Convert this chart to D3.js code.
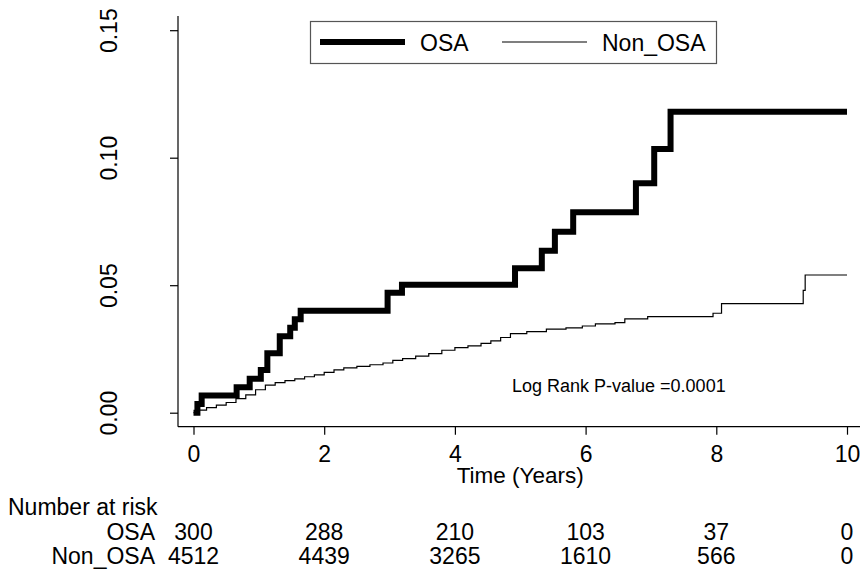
<!DOCTYPE html>
<meta charset="utf-8">
<style>
body { margin: 0; background: #fff; }
text { font-family: "Liberation Sans", Arial, sans-serif; fill: #000; }
.axis path { display: none; }
.axis line { stroke: #000; stroke-width: 1.2; }
</style>
<svg width="860" height="573"></svg>
<script src="https://d3js.org/d3.v7.min.js"></script>
<script>

// Kaplan-Meier style cumulative incidence
var osaTime = [0, 0.06, 0.125, 0.66, 0.86, 1.03, 1.13, 1.32, 1.48, 1.55, 1.64, 2.97, 3.19, 4.92, 5.33, 5.53, 5.81, 6.77, 7.05, 7.30, 10],
    osaValue = [0, 0.0034, 0.0067, 0.0100, 0.0133, 0.0167, 0.0233, 0.0300, 0.0333, 0.0366, 0.0400, 0.0470, 0.0502, 0.0566, 0.0635, 0.0710, 0.0786, 0.0900, 0.1034, 0.1180, 0.1180];

var nonTime = [0, 0.08, 0.2, 0.35, 0.5, 0.65, 0.8, 0.95, 1.1, 1.25, 1.4, 1.55, 1.7, 1.85, 2.0, 2.15, 2.3, 2.5, 2.7, 2.9, 3.05, 3.2, 3.4, 3.6, 3.8, 4.0, 4.2, 4.4, 4.55, 4.7, 4.85, 5.1, 5.4, 5.7, 5.95, 6.15, 6.45, 6.6, 6.95, 7.95, 8.08, 9.33, 9.36, 10],
    nonValue = [0, 0.0010, 0.0020, 0.0030, 0.0040, 0.0055, 0.0070, 0.0090, 0.0108, 0.0118, 0.0126, 0.0133, 0.0141, 0.0148, 0.0158, 0.0168, 0.0176, 0.0182, 0.0188, 0.0195, 0.0205, 0.0212, 0.0222, 0.0232, 0.0245, 0.0255, 0.0262, 0.0272, 0.0282, 0.0295, 0.0310, 0.0318, 0.0328, 0.0333, 0.0340, 0.0348, 0.0353, 0.0368, 0.0377, 0.0390, 0.0428, 0.0480, 0.0540, 0.0540];

var xTicks = [0, 2, 4, 6, 8, 10],
    yTicks = [0, 0.05, 0.10, 0.15];

var riskTimes = [0, 2, 4, 6, 8, 10],
    riskGroups = ["OSA", "Non_OSA"],
    riskOSA = [300, 288, 210, 103, 37, 0],
    riskNon = [4512, 4439, 3265, 1610, 566, 0];

var svg = d3.select("svg");

var x = d3.scaleLinear().domain([0, 10]).range([193.5, 847]),
    y = d3.scaleLinear().domain([0, 0.15]).range([412.7, 30.2]);

var left = 178, bottom = 426.7;

// axes lines
svg.append("line")
    .attr("x1", left).attr("x2", left)
    .attr("y1", 16).attr("y2", bottom)
    .attr("stroke", "#000").attr("stroke-width", 1.2);
svg.append("line")
    .attr("x1", left).attr("x2", 860)
    .attr("y1", bottom).attr("y2", bottom)
    .attr("stroke", "#000").attr("stroke-width", 1.2);

var yAxis = svg.append("g")
    .attr("class", "axis")
    .attr("transform", "translate(" + left + ",0)")
    .call(d3.axisLeft(y).tickValues(yTicks).tickSize(8).tickFormat(d3.format(".2f")));
yAxis.selectAll("text")
    .attr("x", 0).attr("dy", null)
    .attr("y", -61)
    .attr("transform", "rotate(-90)")
    .attr("text-anchor", "middle")
    .style("font-size", "23px");

var xAxis = svg.append("g")
    .attr("class", "axis")
    .attr("transform", "translate(0," + bottom + ")")
    .call(d3.axisBottom(x).tickValues(xTicks).tickSize(8));
xAxis.selectAll("text")
    .attr("dy", null)
    .attr("y", 35)
    .style("font-size", "23px");

svg.append("text")
    .attr("x", x(5)).attr("y", 483)
    .attr("text-anchor", "middle")
    .style("font-size", "22.5px")
    .text("Time (Years)");

// curves
var line = d3.line()
    .x(function(d) { return x(d[0]); })
    .y(function(d) { return y(d[1]); })
    .curve(d3.curveStepAfter);

svg.append("path")
    .datum(d3.zip(nonTime, nonValue))
    .attr("fill", "none")
    .attr("stroke", "#000")
    .attr("stroke-width", 1.2)
    .attr("d", line);

svg.append("path")
    .datum(d3.zip(osaTime, osaValue))
    .attr("fill", "none")
    .attr("stroke", "#000")
    .attr("stroke-width", 6)
    .attr("stroke-linejoin", "miter")
    .attr("d", line);

// legend
svg.append("rect")
    .attr("x", 310.5).attr("y", 21.5)
    .attr("width", 406).attr("height", 42)
    .attr("fill", "#fff")
    .attr("stroke", "#555")
    .attr("stroke-width", 1.2);
svg.append("line")
    .attr("x1", 320).attr("x2", 405).attr("y1", 42).attr("y2", 42)
    .attr("stroke", "#000").attr("stroke-width", 6);
svg.append("text")
    .attr("x", 420).attr("y", 51)
    .style("font-size", "23px")
    .text("OSA");
svg.append("line")
    .attr("x1", 502).attr("x2", 587).attr("y1", 42).attr("y2", 42)
    .attr("stroke", "#000").attr("stroke-width", 1.2);
svg.append("text")
    .attr("x", 602).attr("y", 51)
    .style("font-size", "23px")
    .text("Non_OSA");

svg.append("text")
    .attr("x", 512).attr("y", 392)
    .style("font-size", "18px")
    .text("Log Rank P-value =0.0001");

// number at risk table
svg.append("text")
    .attr("x", 8).attr("y", 515)
    .style("font-size", "23px")
    .text("Number at risk");

var rows = [riskOSA, riskNon],
    rowY = [540, 564];

rows.forEach(function(vals, i) {
  svg.append("text")
      .attr("x", 155).attr("y", rowY[i])
      .attr("text-anchor", "end")
      .style("font-size", "23px")
      .text(riskGroups[i]);
  svg.selectAll(".risk" + i)
    .data(vals)
    .enter().append("text")
      .attr("class", "risk" + i)
      .attr("x", function(d, j) { return x(riskTimes[j]); })
      .attr("y", rowY[i])
      .attr("text-anchor", "middle")
      .style("font-size", "23px")
      .text(function(d) { return d; });
});

</script>
